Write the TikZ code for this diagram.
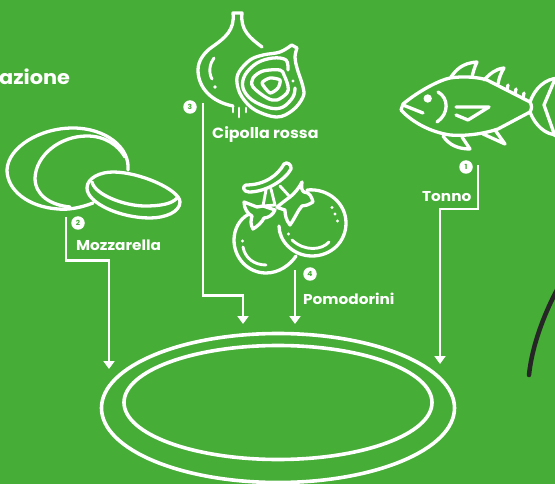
\documentclass[tikz,border=0pt]{standalone}
\usepackage{fontspec}
\setmainfont{Poppins}[BoldFont={Poppins Bold},BoldFeatures={FakeStretch=1.07}]
\usetikzlibrary{arrows.meta}
\definecolor{bg}{HTML}{46AD36}
\tikzset{
  art/.style={draw=white,line width=3.3pt,line cap=round,line join=round},
  thin art/.style={art,line width=2.9pt},
  conn/.style={draw=white,line width=2.2pt,-{Triangle[length=8pt,width=11pt]},line join=miter},
  lab/.style={text=white,font=\bfseries\fontsize{14.3}{15}\selectfont,inner sep=0pt,anchor=base west},
  num/.style={circle,fill=white,minimum size=13.5pt,inner sep=0pt,text=bg,font=\bfseries\fontsize{7}{7}\selectfont},
  dot/.style={fill=white,draw=none}
}
\begin{document}
\begin{tikzpicture}[x=1pt,y=-1pt]
\fill[bg] (0,0) rectangle (555,484);
\useasboundingbox (0,0) rectangle (555,484);
\clip (0,0) rectangle (555,484);

% title
\node[lab,font=\bfseries\fontsize{19.5}{20}\selectfont] (title) at (-1,84.5) {azione};

% plate
\draw[art,line width=3.6pt] (278,408) ellipse [x radius=176.5,y radius=74.5];
\draw[art,line width=3.6pt] (278,402.5) ellipse [x radius=154,y radius=57];
\coordinate (plate) at (278,408);

% black curve
\draw[draw=black!85,line width=4.5pt,line cap=round] (529,375) .. controls (532,345) and (545,312) .. (558,288);

% fish
\draw[art] (401,110) -- (403,104) .. controls (420,90) and (440,80) .. (450,78)
  .. controls (462,76) and (478,77) .. (487,80) -- (530,102)
  .. controls (532,106) and (532,108) .. (530,112) -- (498,129)
  .. controls (480,135) and (462,136) .. (450,135) .. controls (430,132) and (412,122) .. (401,110);
\draw[art] (403,105) -- (423,113);
\draw[art] (438,92) .. controls (449,98) and (449,114) .. (437,122);
\fill[dot] (427.7,98.5) circle (4.2pt);
\draw[art] (456,107) -- (489,107) -- (468,120) -- (456,115);
\draw[art] (451,77) .. controls (456,70) and (462,63) .. (477,62) .. controls (474,68) and (473,73) .. (472,77);
\draw[art] (484,80) .. controls (490,74) and (495,69) .. (504,68) .. controls (501,73) and (499,78) .. (498,84);
\draw[art] (507,90) -- (508,85) (515,93.5) -- (516,89) (523,98) -- (524,93);
\draw[art] (443,136) .. controls (449,145) and (458,149) .. (470,149) -- (462,137);
\draw[art] (483,134) -- (505,144) -- (495,130);
\draw[art] (530,102) .. controls (535,88) and (545,79) .. (558,78);
\draw[art] (530,112) .. controls (535,125) and (545,135) .. (558,135);
\draw[art] (555,79) -- (544,105) -- (555,136);

% mozzarella
\draw[art] (93,203) .. controls (80,208) and (68,210) .. (58,209)
  .. controls (28,207) and (7,190) .. (7,170) .. controls (8,147) and (40,128) .. (73,128)
  .. controls (105,128) and (130,147) .. (128,170);
\draw[art] (70,207) .. controls (50,205) and (35,195) .. (35,178) .. controls (36,155) and (60,136) .. (87,136)
  .. controls (105,136) and (118,145) .. (125,157);
\draw[art] (113,172) .. controls (140,172) and (180,190) .. (180,202) .. controls (180,212) and (165,218) .. (150,218)
  .. controls (120,218) and (87,203) .. (87,188) .. controls (87,178) and (100,172) .. (113,172);
\draw[art] (92,182) .. controls (95,195) and (125,206) .. (145,206) .. controls (160,206) and (172,204) .. (177,198);

% onion whole
\draw[art] (262,47) .. controls (250,38) and (240,30) .. (242,13) -- (233,13)
  .. controls (235,30) and (225,38) .. (212,47) .. controls (205,52) and (198,60) .. (198,70)
  .. controls (198,88) and (212,102) .. (233,106);
\draw[thin art] (214,58) .. controls (210,63) and (208,72) .. (212,79);
\fill[dot] (215,87) circle (1.8pt);
\draw[thin art] (233,107) -- (233,112) (239,108) -- (239,117) (246,108) -- (246,112);
% onion cut
\draw[art] plot[smooth,tension=0.6] coordinates {(291.7,45) (280,52) (263,55) (250,60) (239,72) (237,83) (242,97) (255,110) (277,117) (293,110) (303,97) (303,87) (297,68) (295,57) (297,48)} -- cycle;
\draw[art] plot[smooth,tension=0.6] coordinates {(288,70) (286,60) (273,58) (257,63) (245,75) (243,88) (252,100) (270,108) (283,107) (293,97) (295,88)};
\draw[art] plot[smooth cycle,tension=0.55] coordinates {(280,70) (263,71) (253,78) (253,87) (267,98) (277,100) (287,93) (288,86) (284,75)};
\draw[art] plot[smooth cycle,tension=0.4] coordinates {(262,83) (270,78) (280,80) (278,88) (270,93)};
\fill[dot] (293,81) circle (1.7pt);

% tomatoes
\draw[art] (249,214) .. controls (239,219) and (234,230) .. (234,240)
  .. controls (234,258) and (248,273) .. (266,273) .. controls (279,273) and (290,265) .. (296,256);
\draw[art] (307,190) .. controls (329,188) and (346,204) .. (346,223) .. controls (346,242) and (331,256) .. (312,256)
  .. controls (293,256) and (279,241) .. (279,226);
\draw[thin art] (243,247) .. controls (245,258) and (254,265) .. (266,265);
\fill[dot] (242.5,241) circle (1.7pt);
\draw[thin art] (292,240) .. controls (305,252) and (322,250) .. (329,242);
\fill[dot] (288.5,234) circle (1.7pt);
\fill[dot] (332,207.5) circle (1.7pt) (335,214) circle (1.7pt) (337.5,221) circle (1.7pt);
\draw[art] (246,185) .. controls (265,185) and (278,175) .. (284,164) .. controls (287,161) and (292,165) .. (291,169)
  .. controls (285,180) and (266,192) .. (249,192) .. controls (243,192) and (242,186) .. (246,185) -- cycle;
\draw[thin art] (266,190) -- (263,206) (271,189) -- (275,205) -- (263,206) (280,186) -- (290,197);
\draw[art] (244,202) -- (257,207) -- (263,206) -- (275,210) .. controls (273,215) and (268,218) .. (264,218)
  .. controls (262,222) and (258,226) .. (253,229) .. controls (250,224) and (251,220) .. (252,216)
  .. controls (248,214) and (244,209) .. (244,202) -- cycle;
\draw[art] (302,182) .. controls (301,188) and (302,191) .. (304,192) .. controls (310,192) and (312,198) .. (313,202)
  .. controls (308,205) and (305,206) .. (302,206) .. controls (298,210) and (295,218) .. (290,225)
  .. controls (286,220) and (285,215) .. (285,210) .. controls (282,209) and (278,208) .. (277,207)
  .. controls (282,203) and (287,199) .. (290,197) .. controls (294,194) and (299,188) .. (302,182) -- cycle;

% connectors
\coordinate (t1) at (478,165); \coordinate (e1) at (440,364);
\coordinate (m1) at (66,217);  \coordinate (e2) at (109,369);
\coordinate (c1) at (203,103); \coordinate (e3) at (243,324);
\coordinate (p1) at (295,270); \coordinate (e4) at (295,324);
\draw[conn] (t1) -- (478,209) -| (e1);
\draw[conn] (m1) -- (66,260.5) -| (e2);
\draw[conn] (c1) -- (203,295.5) -| (e3);
\draw[conn] (p1) -- (e4);

% bullets
\node[num] (n1) at (466,167) {1};
\node[num] (n2) at (78,223) {2};
\node[num] (n3) at (190,107) {3};
\node[num] (n4) at (310,274) {4};

% labels
\node[lab] (l1) at (422,201.5) {Tonno};
\node[lab] (l2) at (76,250.5) {Mozzarella};
\node[lab,font=\bfseries\fontsize{14.8}{15}\selectfont] (l3) at (212,138.5) {Cipolla rossa};
\node[lab] (l4) at (303,304.5) {Pomodorini};
\end{tikzpicture}
\end{document}
